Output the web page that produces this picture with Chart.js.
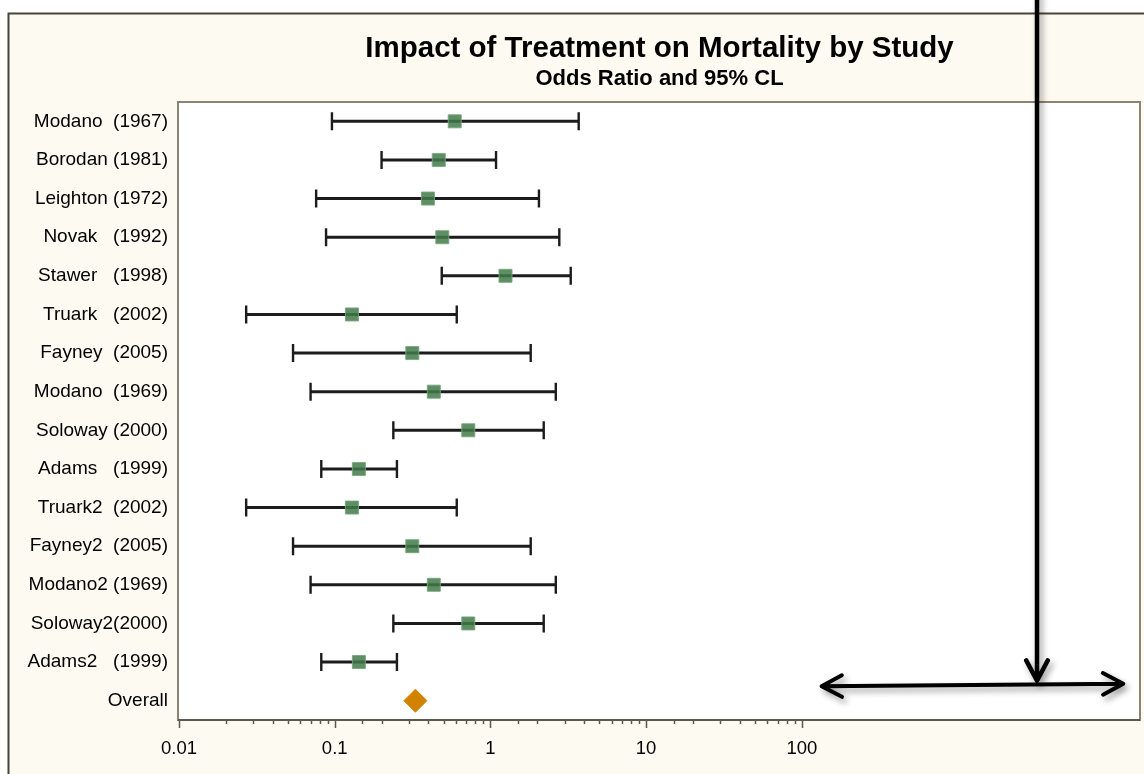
<!DOCTYPE html>
<html>
<head>
<meta charset="utf-8">
<title>Impact of Treatment on Mortality by Study</title>
<script src="https://cdn.jsdelivr.net/npm/chart.js@4.4.0/dist/chart.umd.min.js"></script>
<style>
  html, body { margin: 0; padding: 0; background: #fff; }
</style>
</head>
<body>
<canvas id="forest" width="1144" height="774"></canvas>
<script>
// Study rows, top to bottom
const studies = [
    'Modano  (1967)', 'Borodan (1981)', 'Leighton (1972)', 'Novak   (1992)',
    'Stawer   (1998)', 'Truark   (2002)', 'Fayney  (2005)', 'Modano  (1969)',
    'Soloway (2000)', 'Adams   (1999)', 'Truark2  (2002)', 'Fayney2  (2005)',
    'Modano2 (1969)', 'Soloway2(2000)', 'Adams2   (1999)'
];
const oddsRatio = [0.59, 0.466, 0.397, 0.491, 1.25, 0.129, 0.315, 0.433, 0.721, 0.143,
                   0.129, 0.315, 0.433, 0.721, 0.143];
const lowerCL   = [0.096, 0.200, 0.076, 0.088, 0.487, 0.027, 0.054, 0.070, 0.238, 0.082,
                   0.027, 0.054, 0.070, 0.238, 0.082];
const upperCL   = [3.69, 1.087, 2.05, 2.77, 3.28, 0.608, 1.815, 2.63, 2.20, 0.251,
                   0.608, 1.815, 2.63, 2.20, 0.251];
const overallLabel = 'Overall';
const overallOR = 0.33;
const decadeTicks = [0.01, 0.1, 1, 10, 100];

const fontFamily = "'Liberation Sans', Arial, Helvetica, sans-serif";
const allLabels = studies.concat([overallLabel]);

const ciBars = lowerCL.map((lo, i) => [lo, upperCL[i]]);
const caps = [];
studies.forEach((s, i) => {
    caps.push({ x: lowerCL[i], y: s });
    caps.push({ x: upperCL[i], y: s });
});
const orPoints = studies.map((s, i) => ({ x: oddsRatio[i], y: s }));

function decadeLabel(value) {
    const d = decadeTicks.find(t => Math.abs(value / t - 1) < 1e-6);
    return d === undefined ? '' : String(d);
}

// draws an arrow line with open chevron head(s)
function arrow(ctx, x0, y0, x1, y1, bothEnds) {
    const len = 23, spread = 28 * Math.PI / 180;
    const head = (tx, ty, ang) => {
        ctx.moveTo(tx + len * Math.cos(ang + spread), ty + len * Math.sin(ang + spread));
        ctx.lineTo(tx, ty);
        ctx.lineTo(tx + len * Math.cos(ang - spread), ty + len * Math.sin(ang - spread));
    };
    const back = Math.atan2(y0 - y1, x0 - x1);
    ctx.beginPath();
    ctx.moveTo(x0, y0);
    ctx.lineTo(x1, y1);
    head(x1, y1, back);
    if (bothEnds) head(x0, y0, back + Math.PI);
    ctx.stroke();
}

const backdrop = {
    id: 'backdrop',
    beforeDraw(chart) {
        const { ctx, chartArea: a, width, height } = chart;
        ctx.save();
        ctx.fillStyle = '#ffffff';
        ctx.fillRect(0, 0, width, height);
        ctx.fillStyle = '#fdfaf2';
        ctx.fillRect(8, 13, width, height);
        ctx.strokeStyle = '#48443a';
        ctx.lineWidth = 2;
        ctx.strokeRect(8.5, 13.5, width + 20, height + 20);
        ctx.fillStyle = '#ffffff';
        ctx.fillRect(a.left, a.top, a.right - a.left, a.bottom - a.top);
        ctx.restore();
    },
    afterDraw(chart) {
        const { ctx, chartArea: a } = chart;
        const xs = chart.scales.x, ys = chart.scales.y;
        ctx.save();
        // plot frame
        ctx.strokeStyle = '#8a8474';
        ctx.lineWidth = 2;
        ctx.strokeRect(a.left - 1, a.top, a.right - a.left + 1, a.bottom - a.top);
        // x axis line and tick marks
        ctx.strokeStyle = '#5d594e';
        ctx.beginPath();
        ctx.moveTo(a.left - 1, a.bottom);
        ctx.lineTo(a.right, a.bottom);
        ctx.stroke();
        ctx.lineWidth = 1.5;
        ctx.beginPath();
        xs.ticks.forEach(t => {
            if (t.value > 100.0001) return;
            const px = Math.round(xs.getPixelForValue(t.value)) + 0.5;
            const major = decadeLabel(t.value) !== '';
            ctx.moveTo(px, a.bottom);
            ctx.lineTo(px, a.bottom + (major ? 8 : 4));
        });
        ctx.stroke();

        // annotation arrows
        const yOverall = ys.getPixelForValue(allLabels.indexOf(overallLabel));
        ctx.strokeStyle = '#000';
        ctx.lineCap = 'round';
        ctx.lineJoin = 'round';
        ctx.shadowColor = 'rgba(0,0,0,0.38)';
        ctx.shadowBlur = 6;
        ctx.shadowOffsetX = 3;
        ctx.shadowOffsetY = 4;
        ctx.lineWidth = 4.5;
        const xDown = xs.getPixelForValue(3240);
        arrow(ctx, xDown, -10, xDown, yOverall - 20, false);
        ctx.lineWidth = 4;
        arrow(ctx, xs.getPixelForValue(134), yOverall - 14.5,
                   xs.getPixelForValue(11600), yOverall - 17, true);
        ctx.restore();
    }
};

new Chart(document.getElementById('forest'), {
    type: 'bar',
    data: {
        labels: allLabels,
        datasets: [
            {
                type: 'scatter',
                label: 'Overall',
                data: [{ x: overallOR, y: overallLabel }],
                pointStyle: 'rectRot',
                pointRadius: 11.5,
                pointBackgroundColor: '#d38200',
                pointBorderColor: '#d38200',
                pointBorderWidth: 1,
                order: 0
            },
            {
                type: 'scatter',
                label: 'Odds Ratio',
                data: orPoints,
                pointStyle: 'rect',
                pointRadius: 9.2,
                pointBackgroundColor: 'rgba(66,122,73,0.85)',
                pointBorderColor: 'rgba(120,165,125,0.9)',
                pointBorderWidth: 1,
                order: 1
            },
            {
                type: 'scatter',
                label: 'caps',
                data: caps,
                pointStyle: 'line',
                pointRotation: 90,
                pointRadius: 9,
                pointBorderColor: '#1c1c1c',
                pointBorderWidth: 2.4,
                order: 2
            },
            {
                type: 'bar',
                label: '95% CL',
                data: ciBars,
                indexAxis: 'y',
                barThickness: 2.4,
                backgroundColor: '#1c1c1c',
                order: 3
            }
        ]
    },
    options: {
        responsive: false,
        animation: false,
        indexAxis: 'y',
        events: [],
        layout: { autoPadding: false, padding: { top: 0, right: 4, bottom: 0, left: 0 } },
        plugins: {
            legend: { display: false },
            tooltip: { enabled: false },
            title: {
                display: true,
                text: 'Impact of Treatment on Mortality by Study',
                fullSize: false,
                color: '#000',
                font: { family: fontFamily, size: 29.5, weight: 'bold', lineHeight: 1 },
                padding: { top: 34, bottom: 0 }
            },
            subtitle: {
                display: true,
                text: 'Odds Ratio and 95% CL',
                fullSize: false,
                color: '#000',
                font: { family: fontFamily, size: 22, weight: 'bold', lineHeight: 1 },
                padding: { top: 4.5, bottom: 12 }
            }
        },
        scales: {
            x: {
                type: 'logarithmic',
                position: 'bottom',
                min: 0.01,
                max: 14860,
                // tick marks are drawn by the backdrop plugin; this only spaces the labels
                grid: { display: true, drawOnChartArea: false, drawTicks: true,
                        tickLength: 18, tickColor: 'rgba(0,0,0,0)' },
                border: { display: false },
                ticks: {
                    autoSkip: false,
                    maxRotation: 0,
                    padding: 0,
                    color: '#000',
                    font: { family: fontFamily, size: 18.5 },
                    callback: value => decadeLabel(value)
                },
                afterFit: scale => {
                    scale.height = 54;
                    scale.paddingLeft = 0;
                    scale.paddingRight = 0;
                }
            },
            y: {
                type: 'category',
                labels: allLabels,
                offset: true,
                grid: { display: false, drawTicks: false },
                border: { display: false },
                ticks: {
                    autoSkip: false,
                    padding: 11,
                    color: '#000',
                    font: { family: fontFamily, size: 19 }
                },
                afterFit: scale => { scale.width = 179; }
            }
        }
    },
    plugins: [backdrop]
});
</script>
</body>
</html>
